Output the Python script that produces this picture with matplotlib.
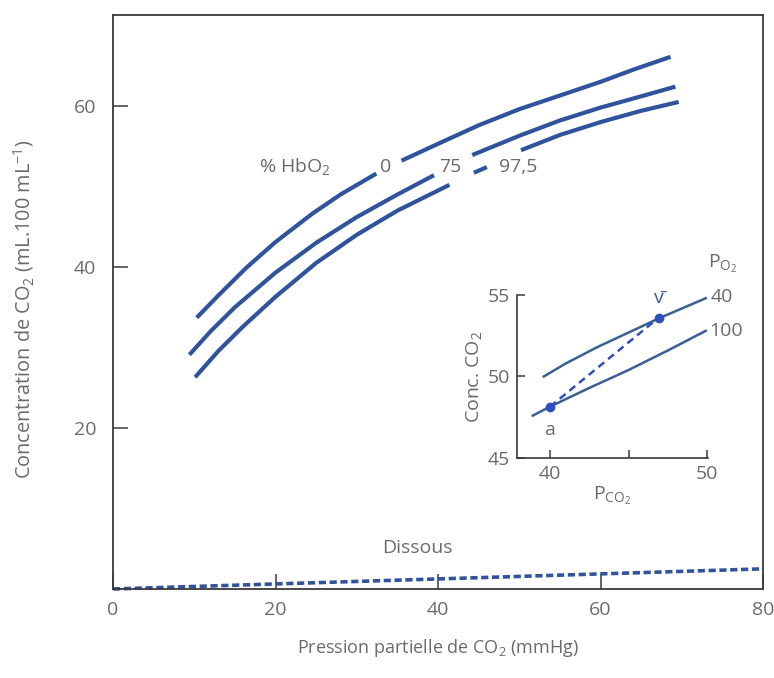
import numpy as np
import matplotlib
matplotlib.use("Agg")
import matplotlib.pyplot as plt

plt.rcParams["font.family"] = ["Open Sans", "DejaVu Sans"]
plt.rcParams["mathtext.fontset"] = "custom"
plt.rcParams["mathtext.rm"] = "Open Sans"

# ---------------------------------------------------------------- data
# main panel: CO2 content vs PCO2 for three HbO2 saturations (nan = label gap)
x_hb0 = [10.3, 13, 16.4, 20, 24.5, 28, 32.4, np.nan, 35.5, 40, 45, 50, 55, 60, 64, 68.6]
y_hb0 = [33.7, 36.5, 39.9, 43.1, 46.6, 49.0, 51.6, np.nan, 53.2, 55.3, 57.6, 59.6, 61.3, 63.0, 64.5, 66.1]

x_hb75 = [9.4, 12, 15, 20, 25, 30, 35, 39.5, np.nan, 44.2, 50, 55, 60, 65, 69.2]
y_hb75 = [29.1, 32.0, 35.0, 39.3, 43.0, 46.2, 49.0, 51.4, np.nan, 53.9, 56.3, 58.2, 59.8, 61.2, 62.4]

x_hb975 = [10.1, 13, 16, 20, 25, 30, 35, 41.4, np.nan, 44.4, 46.0, np.nan, 50.2, 55, 60, 65, 69.6]
y_hb975 = [26.3, 29.6, 32.6, 36.3, 40.5, 44.0, 47.0, 50.2, np.nan, 51.7, 52.4, np.nan, 54.5, 56.4, 58.0, 59.4, 60.5]

# dissolved CO2
x_diss = [0, 80]
y_diss = [0, 2.5]

# inset: PO2 = 40 and PO2 = 100
x_po40 = [39.6, 41, 43, 45, 47, 49.9]
y_po40 = [50.0, 50.8, 51.8, 52.7, 53.6, 54.8]
x_po100 = [38.9, 40, 42.5, 45, 47.5, 49.9]
y_po100 = [47.6, 48.15, 49.3, 50.4, 51.6, 52.8]
# arterial (a) and mixed venous (v) points
x_av = [40, 46.9]
y_av = [48.15, 53.6]

# ---------------------------------------------------------------- style
BLUE = "#2f539c"
BLUE_IN = "#3a5f93"
DOT = "#2d4fc0"
TXT = "#6a6a6a"
AX = "#3a3a3a"
FS = 14

fig = plt.figure(figsize=(7.74, 6.78), dpi=100)
ax = fig.add_axes([0.146, 0.1313, 0.840, 0.8466])

ax.plot(x_hb0, y_hb0, color=BLUE, lw=3.0, solid_capstyle="butt")
ax.plot(x_hb75, y_hb75, color=BLUE, lw=3.0, solid_capstyle="butt")
ax.plot(x_hb975, y_hb975, color=BLUE, lw=3.0, solid_capstyle="butt")
ax.plot(x_diss, y_diss, color=BLUE, lw=2.6, ls=(0, (2.0, 1.0)), clip_on=False)

ax.set_xlim(0, 80)
ax.set_ylim(0, 71.3)
ax.set_xticks([0, 20, 40, 60, 80])
ax.set_yticks([20, 40, 60])
ax.tick_params(direction="in", length=11, width=1.1, color=AX,
               labelcolor=TXT, labelsize=FS)
ax.tick_params(axis="x", pad=9)
ax.tick_params(axis="y", pad=12)
for s in ax.spines.values():
    s.set_color(AX)
    s.set_linewidth(1.3)

ax.set_xlabel("Pression partielle de CO$_2$ (mmHg)", fontsize=13, color=TXT)
ax.set_ylabel("Concentration de CO$_2$ (mL.100 mL$^{-1}$)", fontsize=14.3, color=TXT)
ax.xaxis.set_label_coords(0.5, -0.084)
ax.yaxis.set_label_coords(-0.118, 0.487)

ax.text(22.4, 52.4, "% HbO$_2$", fontsize=FS, color=TXT, ha="center", va="center")
ax.text(33.6, 52.4, "0", fontsize=FS, color=TXT, ha="center", va="center")
ax.text(41.5, 52.4, "75", fontsize=FS, color=TXT, ha="center", va="center")
ax.text(49.8, 52.4, "97,5", fontsize=FS, color=TXT, ha="center", va="center")
ax.text(37.4, 5.1, "Dissous", fontsize=FS, color=TXT, ha="center", va="center")

# ---------------------------------------------------------------- inset
ins = fig.add_axes([0.668, 0.3245, 0.2468, 0.2404])
ins.patch.set_alpha(0)
ins.plot(x_po40, y_po40, color=BLUE_IN, lw=1.8, clip_on=False)
ins.plot(x_po100, y_po100, color=BLUE_IN, lw=1.8, clip_on=False)
ins.plot(x_av, y_av, color=DOT, lw=1.8, ls=(0, (3, 2)), marker="o",
         ms=6, clip_on=False)
ins.set_xlim(37.9, 50.05)
ins.set_ylim(45, 55)
ins.set_xticks([40, 45, 50])
ins.set_xticklabels(["40", "", "50"])
ins.set_yticks([45, 50, 55])
ins.spines["top"].set_visible(False)
ins.spines["right"].set_visible(False)
for s in ("left", "bottom"):
    ins.spines[s].set_color(AX)
    ins.spines[s].set_linewidth(1.2)
ins.tick_params(direction="in", length=6, width=1.1, color=AX,
                labelcolor=TXT, labelsize=FS, pad=5)
ins.set_ylabel("Conc. CO$_2$", fontsize=FS, color=TXT, labelpad=2)
ins.set_xlabel("P$_{\\mathrm{CO_2}}$", fontsize=FS, color=TXT, labelpad=1)

ins.text(40.0, 46.7, "a", fontsize=FS, color=TXT, ha="center", va="center")
ins.text(46.9, 54.8, "v\u0304", fontsize=FS, color=BLUE_IN, ha="center", va="center")
ins.text(50.2, 54.85, "40", fontsize=FS, color=TXT, ha="left", va="center")
ins.text(50.15, 52.8, "100", fontsize=FS, color=TXT, ha="left", va="center")
ins.text(51.0, 56.9, "P$_{\\mathrm{O_2}}$", fontsize=FS, color=TXT,
         ha="center", va="center")

fig.savefig("out.png", dpi=100)
